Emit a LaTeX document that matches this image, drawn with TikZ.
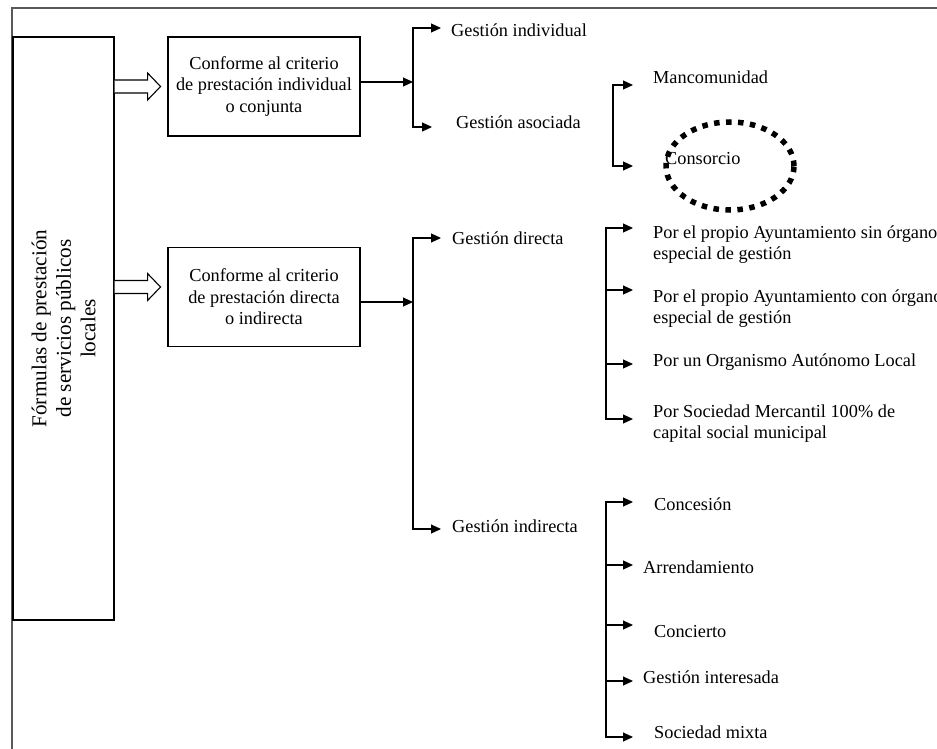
\documentclass[tikz,border=0pt]{standalone}
\usepackage{fontspec}
\setmainfont{Liberation Serif}
\usetikzlibrary{arrows.meta,calc}
\begin{document}
\begin{tikzpicture}[x=1pt,y=-1pt,
  every node/.style={inner sep=0pt, font=\fontsize{18.3}{21.5}\selectfont},
  box/.style={draw, line width=1.1pt, minimum width=192pt, minimum height=99pt, align=center},
  item/.style={anchor=west, text height=0.7em, text depth=0.05em},
  item2/.style={anchor=base west, align=left, font=\fontsize{18.3}{20.5}\selectfont},
  link/.style={line width=1.1pt, line cap=rect},
  arr/.style={link, -{Triangle[length=10pt,width=9pt]}},
  hollow/.style={line width=1.1pt, fill=white},
  frame/.style={line width=2pt, draw=black!65},
  ring/.style={line width=5.5pt, dash pattern=on 5.5pt off 6.5pt}
]
\useasboundingbox (0,0) rectangle (937,749);

% page frame
\draw[frame] (12,760) -- (12,8) -- (950,8);

% main boxes
\node[draw, line width=1.1pt, minimum width=101pt, minimum height=583pt] (L) at (63.5,328.5) {};
\node[rotate=90, align=center, font=\fontsize{21.2}{24.5}\selectfont] (Lt) at (L) {Fórmulas de prestación\\de servicios públicos\\locales};
\node[box] (b1) at (264,86.5) {Conforme al criterio\\de prestación individual\\o conjunta};
\node[box] (b2) at (264,297) {Conforme al criterio\\de prestación directa\\o indirecta};

% hollow arrows from the left box
\draw[hollow] ($(L.east |- b1)+(0,-6.5)$) -- ++(33,0) -- ++(0,-7) -- ++(13,13.5) -- ++(-13,13.5) -- ++(0,-7) -- ++(-33,0);
\draw[hollow] ($(L.east |- b2)+(0,-16.5)$) -- ++(33,0) -- ++(0,-7) -- ++(13,13.5) -- ++(-13,13.5) -- ++(0,-7) -- ++(-33,0);

% labels (two-line labels are placed by the baseline of their last line)
\node[item] (gi) at (451,33) {Gestión individual};
\node[item] (ga) at (456,125) {Gestión asociada};
\node[item] (man) at (653,80) {Mancomunidad};
\node[item] (con) at (665,161) {Consorcio};
\node[item] (gd) at (452,241) {Gestión directa};
\node[item] (gin) at (452,529) {Gestión indirecta};
\node[item2] (p1) at (653,259) {Por el propio Ayuntamiento sin órgano\\especial de gestión};
\node[item2] (p2) at (653,323) {Por el propio Ayuntamiento con órgano\\especial de gestión};
\node[item] (p3) at (653,363) {Por un Organismo Autónomo Local};
\node[item2] (p4) at (653,438) {Por Sociedad Mercantil 100\% de\\capital social municipal};
\node[item] (i1) at (654,507) {Concesión};
\node[item] (i2) at (643,570) {Arrendamiento};
\node[item] (i3) at (654,634) {Concierto};
\node[item] (i4) at (643,680) {Gestión interesada};
\node[item] (i5) at (654,735) {Sociedad mixta};

% highlight ring
\draw[ring] (730,166) ellipse [x radius=64pt, y radius=44pt];

% arrow tips in front of the labels
\coordinate (tgi) at ($(gi.west)+(-10,-5)$);
\coordinate (tga) at ($(ga.west)+(-24,2)$);
\coordinate (tman) at ($(man.west)+(-20,5)$);
\coordinate (tcon) at ($(con.west)+(-32,5)$);
\coordinate (tgd) at ($(gd.west)+(-11,-3)$);
\coordinate (tgin) at ($(gin.west)+(-11,0)$);
\coordinate (tp1) at ($(p1.base west)+(-20,-31)$);
\coordinate (tp2) at ($(p2.base west)+(-20,-33)$);
\coordinate (tp3) at ($(p3.west)+(-20,1)$);
\coordinate (tp4) at ($(p4.base west)+(-20,-19)$);
\coordinate (ti1) at ($(i1.west)+(-21,-5)$);
\coordinate (ti2) at ($(i2.west)+(-10,-5)$);
\coordinate (ti3) at ($(i3.west)+(-21,-9)$);
\coordinate (ti4) at ($(i4.west)+(-10,1)$);
\coordinate (ti5) at ($(i5.west)+(-21,2)$);

% bracket trunks
\coordinate (j1) at (413,82);
\coordinate (j2) at (413,302);
\coordinate (jm) at (613,0);
\coordinate (jd) at (606,0);

% individual / joint
\draw[arr] (b1.east |- j1) -- (j1);
\draw[link] (j1 |- tgi) -- (j1 |- tga);
\draw[arr] (j1 |- tgi) -- (tgi);
\draw[arr] (j1 |- tga) -- (tga);

% associated management
\draw[link] (jm |- tman) -- (jm |- tcon);
\draw[arr] (jm |- tman) -- (tman);
\draw[arr] (jm |- tcon) -- (tcon);

% direct / indirect
\draw[arr] (b2.east |- j2) -- (j2);
\draw[link] (j2 |- tgd) -- (j2 |- tgin);
\draw[arr] (j2 |- tgd) -- (tgd);
\draw[arr] (j2 |- tgin) -- (tgin);

% direct management
\draw[link] (jd |- tp1) -- (jd |- tp4);
\foreach \t in {tp1,tp2,tp3,tp4} \draw[arr] (jd |- \t) -- (\t);

% indirect management
\draw[link] (jd |- ti1) -- (jd |- ti5);
\foreach \t in {ti1,ti2,ti3,ti4,ti5} \draw[arr] (jd |- \t) -- (\t);
\end{tikzpicture}
\end{document}
